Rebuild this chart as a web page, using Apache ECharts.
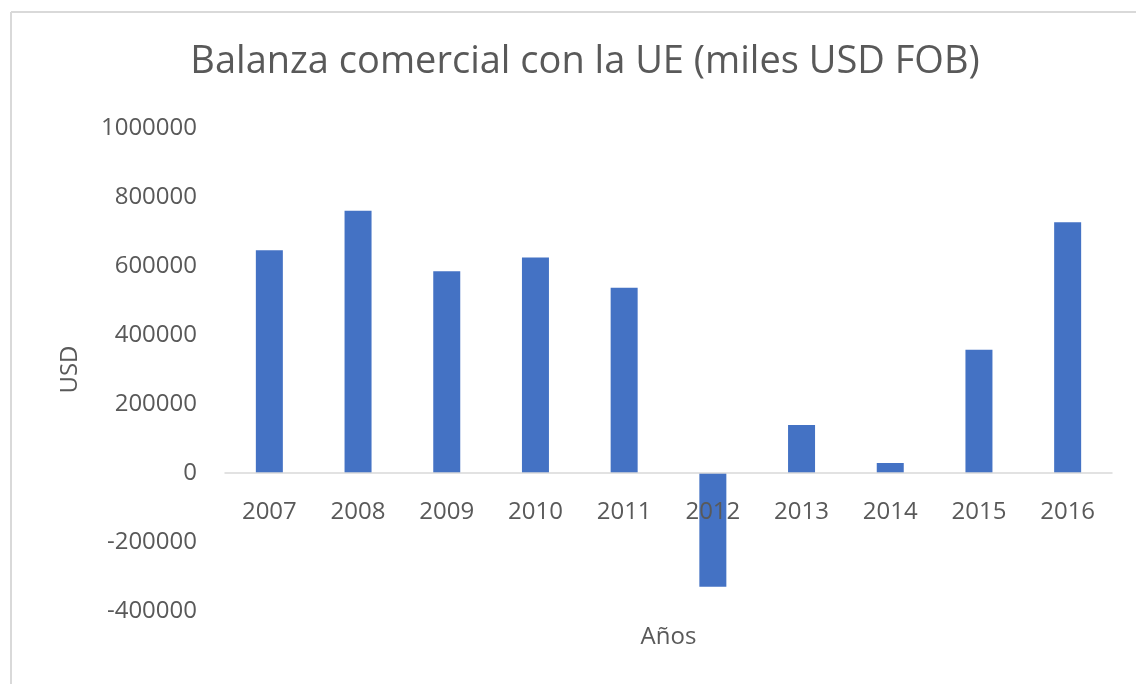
<!DOCTYPE html>
<html>
<head>
<meta charset="utf-8">
<script src="https://cdn.jsdelivr.net/npm/echarts@6/dist/echarts.min.js"></script>
<style>
html,body{margin:0;padding:0;background:#fff;}
#chart{width:1136px;height:684px;}
</style>
</head>
<body>
<div id="chart"></div>
<script>
const titleText = 'Balanza comercial con la UE (miles USD FOB)';
const years = ['2007','2008','2009','2010','2011','2012','2013','2014','2015','2016'];
const balance = [646000, 760000, 585000, 625000, 537000, -330000, 139000, 29000, 357000, 727000];
const yMin = -400000, yMax = 1000000, yStep = 200000;
const xName = 'Años', yName = 'USD';

const font = '"Open Sans", sans-serif';
const textColor = '#595959';
const chart = echarts.init(document.getElementById('chart'));
chart.setOption({
  animation: false,
  backgroundColor: '#fff',
  title: {
    text: titleText,
    left: 580, top: 38, textAlign: 'center',
    textStyle: {fontFamily: font, fontSize: 38, fontWeight: 'normal', color: textColor}
  },
  grid: {left: 225, right: 24, top: 128, bottom: 73, containLabel: false, outerBoundsMode: 'none'},
  xAxis: {
    type: 'category',
    data: years,
    z: 5,
    name: xName,
    nameLocation: 'middle',
    nameGap: 14,
    nameTextStyle: {fontFamily: font, fontSize: 24, color: textColor},
    axisLine: {onZero: true, lineStyle: {color: '#d9d9d9', width: 1.5}},
    axisTick: {show: false},
    axisLabel: {fontFamily: font, fontSize: 24, color: textColor, margin: -111}
  },
  yAxis: {
    type: 'value',
    min: yMin, max: yMax, interval: yStep,
    name: yName,
    nameLocation: 'middle',
    nameGap: 143,
    nameRotate: 90,
    nameTextStyle: {fontFamily: font, fontSize: 24, color: textColor},
    axisLine: {show: false},
    axisTick: {show: false},
    splitLine: {show: false},
    axisLabel: {fontFamily: font, fontSize: 24, color: textColor, margin: 28, formatter: v => String(v)}
  },
  series: [{
    type: 'bar',
    data: balance,
    barWidth: 27,
    z: 2,
    itemStyle: {color: '#4472c4'}
  }],
  graphic: [
    {type: 'line', shape: {x1: 11, y1: 12, x2: 1136, y2: 12}, style: {stroke: '#d9d9d9', lineWidth: 2}},
    {type: 'line', shape: {x1: 11, y1: 12, x2: 11, y2: 684}, style: {stroke: '#d9d9d9', lineWidth: 2}}
  ]
});
</script>
</body>
</html>
